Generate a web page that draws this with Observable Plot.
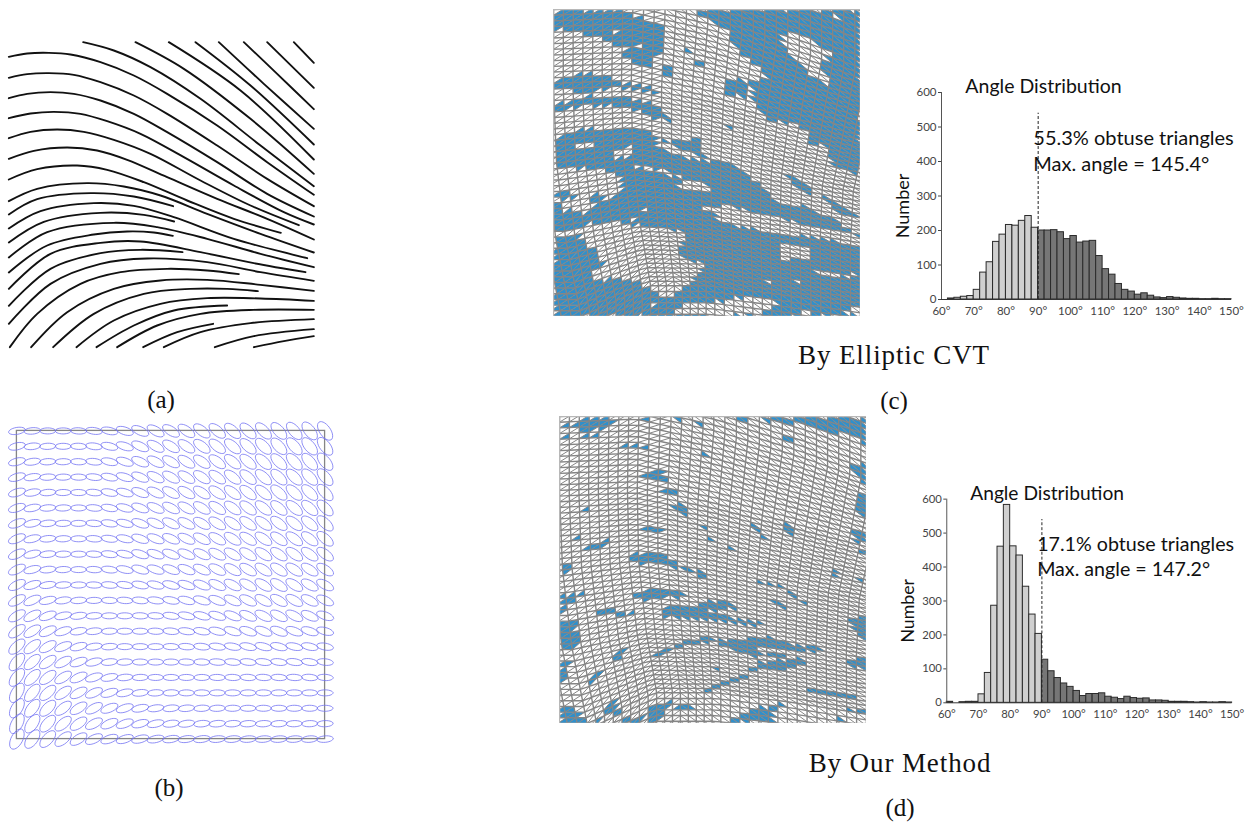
<!DOCTYPE html>
<html><head><meta charset="utf-8">
<script src="https://cdn.jsdelivr.net/npm/d3@7"></script>
<script src="https://cdn.jsdelivr.net/npm/@observablehq/plot@0.6"></script>
<style>
html,body{margin:0;padding:0;background:#fff}
#page{position:relative;width:1251px;height:823px;overflow:hidden}
.panel{position:absolute}
.panel svg{display:block;background:transparent}
.cap{position:absolute;transform:translate(-50%,-50%);font-family:"Liberation Serif",serif;white-space:nowrap;color:#111}
</style></head><body><div id="page"></div>
<script>
// ---------- Histogram values (2-degree bins starting at 60 degrees)
const binStart = [60,62,64,66,68,70,72,74,76,78,80,82,84,86,88,90,92,94,96,98,100,102,104,106,108,110,112,114,116,118,120,122,124,126,128,130,132,134,136,138,140,142,144,146,148];
const histC = [0,3,5,8,10,28,78,108,167,188,216,214,228,242,208,200,200,201,195,175,184,165,168,170,126,88,72,45,28,23,14,18,11,6,4,7,5,3,2,2,1,1,2,1,1];
const histD = [3,0,2,3,3,25,88,286,460,583,461,434,342,260,203,127,93,73,57,47,35,20,26,26,28,18,15,11,18,14,12,13,7,7,6,3,3,3,2,1,2,1,1,2,1];
const xTicks = [60,70,80,90,100,110,120,130,140,150];
const yTicks = [0,100,200,300,400,500,600];

// ---------- Panel (a): streamlines
const streamlines = [
 [[880,35],[940,97]],
 [[800,35],[940,172]],
 [[730,35],[830,130],[940,236]],
 [[655,35],[790,160],[940,295]],
 [[585,35],[750,165],[940,342]],
 [[505,35],[720,180],[940,387]],
 [[405,35],[550,115],[750,265],[940,430]],
 [[248,35],[340,60],[450,110],[600,205],[780,345],[940,467]],
 [[25,79],[80,69],[145,67],[210,72],[300,95],[400,135],[500,190],[650,285],[800,395],[940,493]],
 [[25,142],[80,131],[145,128],[220,133],[300,155],[400,195],[500,250],[650,345],[800,445],[940,527]],
 [[25,203],[80,190],[150,185],[220,190],[300,210],[400,250],[500,305],[650,395],[800,490],[940,558]],
 [[25,263],[90,249],[160,244],[240,250],[320,272],[420,310],[550,380],[700,465],[850,545],[940,582]],
 [[25,323],[90,304],[170,297],[250,304],[340,328],[450,370],[600,450],[750,525],[895,584]],
 [[25,385],[100,361],[200,351],[290,360],[380,388],[500,440],[650,505],[800,565],[940,627]],
 [[25,447],[110,416],[230,405],[320,418],[430,455],[560,510],[700,565],[841,607]],
 [[25,512],[110,475],[260,458],[370,468],[480,495],[620,550],[780,610],[940,666]],
 [[25,552],[110,506],[270,488],[400,498],[518,527]],
 [[25,594],[120,542],[280,518],[400,526],[520,560],[700,625],[920,683]],
 [[25,636],[130,574],[300,547],[430,553],[521,573]],
 [[25,681],[140,605],[340,577],[470,590],[620,625],[780,670],[940,710]],
 [[25,726],[140,645],[280,612],[380,603],[460,606],[517,616]],
 [[25,775],[150,670],[300,637],[420,633],[600,665],[760,698],[915,725]],
 [[25,826],[150,715],[300,668],[420,658],[546,665]],
 [[25,880],[150,760],[300,700],[440,684],[620,695],[780,725],[940,751]],
 [[28,950],[110,850],[240,760],[360,725],[500,715],[620,720],[715,731]],
 [[92,950],[200,845],[340,775],[480,750],[620,748],[780,763],[940,781]],
 [[158,950],[280,850],[430,790],[570,775],[680,775],[772,782]],
 [[228,950],[340,870],[480,820],[620,803],[780,804],[940,811]],
 [[288,950],[400,885],[520,840],[680,825]],
 [[350,950],[470,885],[600,850],[760,838],[940,838]],
 [[428,950],[530,905],[638,880]],
 [[490,950],[600,905],[750,878],[940,866]],
 [[643,950],[760,917],[940,896]],
 [[760,950],[850,932],[940,917]]
];

// ---------- Panel (b): ellipse tilt per grid node, degrees (positive rises to the right)
const ellipseTilt = [
 [10,5,0,0,-3,-8,-12,-18,-25,-30,-32,-35,-38,-40,-42,-44,-46,-48,-50,-52,-55],
 [12,6,2,0,-2,-7,-13,-18,-25,-30,-32,-35,-37,-39,-41,-43,-45,-47,-49,-50,-52],
 [14,8,3,1,-2,-6,-12,-18,-24,-28,-30,-33,-35,-37,-39,-41,-43,-45,-47,-48,-50],
 [16,9,3,1,-1,-6,-12,-17,-23,-27,-30,-32,-34,-36,-38,-40,-42,-44,-45,-46,-48],
 [17,10,4,1,-1,-5,-11,-16,-22,-26,-29,-31,-33,-35,-37,-39,-40,-42,-43,-44,-46],
 [18,11,4,2,0,-5,-10,-15,-21,-25,-28,-30,-32,-34,-36,-38,-39,-40,-41,-42,-44],
 [20,12,5,2,0,-4,-9,-14,-20,-24,-26,-28,-30,-33,-35,-36,-37,-38,-39,-40,-42],
 [22,13,5,2,0,-4,-8,-13,-19,-22,-24,-26,-28,-31,-33,-34,-35,-36,-37,-38,-40],
 [24,14,6,2,0,-3,-7,-12,-18,-20,-22,-24,-26,-29,-31,-33,-34,-35,-36,-36,-36],
 [25,14,6,2,0,-3,-7,-12,-18,-19,-21,-23,-25,-28,-30,-32,-33,-34,-34,-33,-32],
 [26,18,8,4,1,-2,-5,-8,-12,-14,-16,-19,-22,-26,-28,-30,-32,-33,-33,-30,-28],
 [28,24,14,8,4,1,-2,-4,-6,-8,-11,-15,-18,-22,-25,-27,-29,-30,-30,-28,-25],
 [30,28,20,12,8,4,0,0,-2,-3,-8,-12,-15,-18,-22,-25,-27,-28,-28,-25,-20],
 [35,32,25,18,10,6,2,0,0,-2,-5,-8,-10,-14,-18,-20,-22,-22,-20,-18,-15],
 [42,38,30,22,15,8,4,0,0,0,-2,-4,-6,-8,-10,-12,-14,-14,-12,-12,-10],
 [50,42,35,28,20,14,6,3,0,0,0,-2,-2,-4,-5,-6,-7,-7,-8,-8,-6],
 [52,45,38,32,25,18,12,5,2,0,0,0,0,-1,-2,-3,-3,-3,-3,-4,-3],
 [58,50,42,35,28,24,18,12,6,3,2,0,0,0,0,0,0,0,0,0,0],
 [58,52,45,38,32,28,22,18,12,8,6,5,3,2,1,0,0,0,0,0,0],
 [60,55,48,40,35,28,24,20,15,12,8,8,5,5,4,3,3,3,2,2,2],
 [62,55,48,40,32,25,20,18,15,12,10,8,8,6,6,5,5,5,5,5,5]
];

// ---------- Panels (c) and (d): obtuse-triangle regions
const blueC = [
 [[40,14],[210,14],[260,35],[340,55],[335,95],[345,130],[300,160],[310,200],[260,175],[205,145],[215,125],[160,100],[110,85],[40,75],[12,70],[12,30]],
 [[430,12],[930,12],[930,510],[845,480],[830,420],[780,415],[765,375],[730,350],[670,350],[640,330],[610,285],[600,225],[650,215],[620,180],[560,130],[530,70],[495,60]],
 [[520,225],[590,225],[600,275],[530,265]],
 [[12,230],[90,200],[180,210],[200,230],[290,240],[350,265],[260,255],[180,245],[110,265],[60,250],[12,250]],
 [[12,300],[60,285],[120,270],[210,275],[290,290],[330,310],[370,345],[320,340],[260,315],[180,300],[100,300],[40,310],[12,320]],
 [[12,400],[60,385],[100,368],[300,372],[320,405],[450,400],[470,465],[540,465],[620,530],[680,590],[760,600],[850,640],[930,690],[930,930],[12,930]],
 [[400,120],[420,130],[410,140]],
 [[420,175],[470,170],[470,185],[430,190]],
 [[345,175],[365,185],[370,215],[340,205]]
];
const whiteC = [
 [[690,90],[750,80],[845,145],[810,175],[845,245],[780,210],[740,165],[700,120]],
 [[835,30],[880,35],[870,50]],
 [[905,190],[925,200],[925,212]],
 [[165,78],[205,68],[215,82],[185,85]],
 [[205,130],[280,115],[250,135]],
 [[12,14],[40,14],[14,30]],
 [[50,42],[75,40],[60,55]],
 [[75,35],[100,42],[85,45]],
 [[12,480],[80,485],[190,495],[215,520],[210,565],[150,585],[100,625],[40,610],[12,590]],
 [[70,420],[130,410],[145,425],[80,430]],
 [[170,440],[245,420],[250,450],[200,455]],
 [[250,480],[330,490],[400,515],[330,505]],
 [[310,418],[370,415],[470,465],[400,455]],
 [[370,535],[410,520],[500,545],[470,560],[420,555]],
 [[458,395],[475,395],[500,460],[470,460]],
 [[555,500],[595,480],[590,500],[560,505]],
 [[450,605],[530,598],[640,625],[700,640],[930,690],[925,720],[780,690],[700,690],[620,670],[510,650],[490,620]],
 [[690,710],[780,720],[770,755],[700,760]],
 [[790,795],[930,805],[925,815],[810,805]],
 [[110,650],[200,650],[300,660],[420,680],[380,730],[400,760],[470,770],[440,810],[400,850],[340,880],[310,860],[270,830],[200,810],[130,830],[130,790],[160,770],[120,720],[80,700],[100,660]],
 [[265,610],[300,605],[290,620]],
 [[210,640],[260,635],[250,650]],
 [[178,640],[195,640],[188,660]],
 [[12,680],[60,670],[110,670],[80,690],[40,690],[14,690]],
 [[370,925],[410,895],[530,880],[610,870],[690,890],[640,925]],
 [[590,810],[640,820],[690,835],[640,825]],
 [[720,820],[755,818],[740,828]],
 [[700,915],[760,920],[820,900],[780,925]],
 [[860,920],[920,900],[925,925]],
 [[12,890],[28,900],[12,908]],
 [[290,900],[320,890],[310,905]],
 [[165,925],[185,910],[180,925]]
];
const blueOverC = [
 [[12,558],[60,560],[80,575],[30,580]],
 [[110,570],[150,558],[160,575],[125,590]],
 [[700,500],[770,530],[800,570],[740,550]],
 [[810,560],[880,600],[930,640],[860,620]],
 [[540,520],[600,560],[560,540]],
 [[530,355],[555,360],[545,385]]
];
const blueD = [
 [[50,35],[90,15],[170,15],[185,25],[150,50],[90,55]],
 [[15,40],[45,30],[45,50]],
 [[85,65],[150,70],[115,82],[95,80]],
 [[20,75],[45,70],[45,85]],
 [[205,100],[250,95],[250,110]],
 [[262,108],[275,95],[290,108]],
 [[240,15],[255,15],[255,25]],
 [[265,15],[285,15],[275,25]],
 [[360,15],[400,15],[385,30]],
 [[420,15],[455,40],[430,35]],
 [[490,15],[520,15],[505,35]],
 [[540,15],[570,15],[560,35]],
 [[610,15],[930,15],[930,100],[880,60],[800,60],[770,40],[640,30]],
 [[870,160],[930,150],[930,230],[900,190]],
 [[905,240],[930,245],[930,330],[905,300]],
 [[880,350],[930,350],[930,390],[900,385]],
 [[905,410],[930,410],[930,430]],
 [[905,495],[930,495],[930,515]],
 [[880,615],[930,610],[930,680],[890,650]],
 [[675,70],[700,70],[720,95],[690,90]],
 [[420,105],[440,105],[455,140],[435,130]],
 [[50,170],[78,162],[78,175]],
 [[255,190],[310,165],[340,205],[300,205]],
 [[325,235],[370,228],[370,245],[340,243]],
 [[340,275],[365,270],[400,285],[395,315],[375,300],[345,285]],
 [[25,297],[45,292],[45,302]],
 [[55,302],[78,295],[78,303]],
 [[85,290],[105,280],[105,293]],
 [[115,295],[140,287],[138,298]],
 [[250,355],[280,340],[340,355],[300,360]],
 [[430,335],[470,350],[440,345]],
 [[445,375],[470,372],[460,392]],
 [[585,330],[600,330],[630,375],[610,375]],
 [[675,350],[695,335],[720,365],[695,360]],
 [[775,310],[815,325],[800,330]],
 [[505,400],[520,400],[535,415]],
 [[15,370],[45,360],[45,372]],
 [[50,375],[75,360],[75,385],[50,385]],
 [[100,395],[155,383],[140,400],[165,412],[80,410]],
 [[215,440],[240,420],[330,425],[380,460],[450,480],[445,500],[390,470],[320,455],[240,450]],
 [[15,455],[45,445],[60,465],[40,470],[15,490]],
 [[825,475],[840,475],[855,495],[840,493]],
 [[597,500],[620,500],[612,515]],
 [[630,510],[650,510],[650,520]],
 [[660,515],[680,520],[665,525]],
 [[690,530],[730,555],[715,555]],
 [[650,560],[670,555],[695,590],[660,580]],
 [[735,560],[760,565],[745,578]],
 [[235,545],[310,520],[370,535],[420,550],[310,555],[270,560]],
 [[15,545],[90,540],[60,555],[30,590],[15,600]],
 [[115,595],[160,585],[230,600],[180,610]],
 [[310,585],[420,575],[440,565],[520,565],[545,585],[450,595],[530,610],[320,610]],
 [[310,610],[420,600],[530,615],[640,630],[600,640],[520,625],[400,615]],
 [[15,620],[60,620],[60,660],[80,680],[50,705],[15,720]],
 [[270,730],[340,705],[400,680],[470,670],[480,685],[390,695],[310,725],[275,738]],
 [[485,680],[560,680],[630,670],[700,690],[800,705],[780,715],[700,710],[620,700],[600,720],[720,720],[700,730],[600,730],[495,700]],
 [[565,770],[620,745],[750,735],[740,755],[700,770]],
 [[440,830],[500,800],[560,785],[620,785],[560,800],[490,820],[445,840]],
 [[475,765],[495,760],[495,780]],
 [[875,745],[910,730],[930,740],[930,765],[890,760]],
 [[160,740],[190,715],[215,705],[185,745]],
 [[100,810],[125,765],[135,785],[110,815]],
 [[15,740],[50,740],[30,790],[15,830]],
 [[15,880],[30,880],[70,900],[90,925],[15,930]],
 [[120,905],[135,925],[120,930]],
 [[190,905],[270,910],[250,930],[200,930]],
 [[155,880],[180,855],[195,900],[150,905]],
 [[270,895],[300,870],[345,865],[330,890],[300,925],[270,925]],
 [[350,890],[380,875],[415,885],[390,893]],
 [[515,925],[570,890],[640,880],[690,865],[650,900],[650,925]],
 [[745,830],[800,825],[920,855],[840,850]],
 [[835,885],[920,890],[930,900],[880,900]],
 [[790,925],[850,915],[890,925]]
];

// Mesh lattice bend, a coarse estimated field (fractions of the panel side) at u,v = 0,.25,.5,.75,1.
// The individual mesh nodes are a structural lattice built on this field, not measured one by one.
const meshRowBend = [
 [0,-.01,.05,.14,.24],
 [0,-.01,.04,.11,.18],
 [0,-.03,0,.05,.10],
 [0,-.05,-.04,-.01,.03],
 [0,-.10,-.10,-.07,-.03]
];
const meshColBend = [
 [0,0,.02,.06,.09],
 [0,-.005,0,.025,.05],
 [.01,0,-.005,0,.01],
 [.04,.025,0,-.005,0],
 [.09,.06,.01,0,0]
];
const meshCols = 31, meshRows = 54;

const page = document.getElementById("page");
function place(node, left, top){
  const d = document.createElement("div");
  d.className = "panel"; d.style.left = left+"px"; d.style.top = top+"px";
  d.appendChild(node); page.appendChild(d);
}
function caption(text, cx, cy, size, spacing){
  const d = document.createElement("div");
  d.className = "cap"; d.textContent = text;
  d.style.left = cx+"px"; d.style.top = cy+"px"; d.style.fontSize = size+"px";
  if (spacing) d.style.letterSpacing = spacing+"px";
  page.appendChild(d);
}
const flatten = list => list.flatMap((pts,id) => pts.map(([x,y]) => ({x,y,id})));

// ---- (a)
place(Plot.plot({width:330,height:330,margin:0,x:{domain:[0,990],axis:null},y:{domain:[990,0],axis:null},
  marks:[Plot.line(flatten(streamlines),{x:"x",y:"y",z:"id",stroke:"#111",strokeWidth:1.9,curve:"catmull-rom"})]
}),0,30);

// ---- (b)
const ellipsePts = [];
ellipseTilt.forEach((row,r)=>row.forEach((deg,c)=>{
  const th = deg*Math.PI/180, m = Math.abs(deg);
  const major = (7.9+m*0.05)/15.4, minor = (3.0+m*0.045)/15.4;
  for(let k=0;k<28;k++){
    const t = k/28*2*Math.PI, A = major*Math.cos(t), B = minor*Math.sin(t);
    ellipsePts.push({x:c+A*Math.cos(th)+B*Math.sin(th), y:r-A*Math.sin(th)+B*Math.cos(th), id:r*21+c});
  }
}));
place(Plot.plot({width:339,height:339,margin:0,x:{domain:[-1,21],axis:null},y:{domain:[21,-1],axis:null},
  marks:[
    Plot.rect([{a:0,b:20,c:0,d:20}],{x1:"a",x2:"b",y1:"c",y2:"d",fill:"none",stroke:"#858585",strokeWidth:1.3}),
    Plot.line(ellipsePts,{x:"x",y:"y",z:"id",stroke:"#7272f2",strokeWidth:.8,curve:"linear-closed"})
  ]
}),0.6,414.6);

// ---- mesh panels
function lookup(table,u,v){
  const cl=(a)=>Math.max(0,Math.min(3.999,a*4));
  const a=cl(u),b=cl(v),i=Math.floor(a),j=Math.floor(b),f=a-i,g=b-j;
  return (table[j][i]*(1-f)+table[j][i+1]*f)*(1-g)+(table[j+1][i]*(1-f)+table[j+1][i+1]*f)*g;
}
function meshPanel(blue,white,over,dx,dy,left,top){
  const rows=[],cols=[],diags=[],tris=[];
  const I0=-10,I1=meshCols+10,J0=-22,J1=meshRows+22;
  const P=(i,j)=>{const u=i/meshCols,v=j/meshRows;
    return [dx[0]+(u+lookup(meshColBend,u,v))*(dx[1]-dx[0]),dy[0]+(v+lookup(meshRowBend,u,v))*(dy[1]-dy[0])];};
  const inAny=(list,p)=>list.some(poly=>d3.polygonContains(poly,p));
  const isBlue=(p)=>inAny(over,p)||(inAny(blue,p)&&!inAny(white,p));
  const addTri=(a,b,c)=>{
    const m=[(a[0]+b[0]+c[0])/3,(a[1]+b[1]+c[1])/3];
    if(m[0]<dx[0]-20||m[0]>dx[1]+20||m[1]<dy[0]-20||m[1]>dy[1]+20) return;
    if(isBlue(m)) tris.push([a,b,c]);
  };
  for(let j=J0;j<=J1;j++)for(let i=I0;i<=I1;i++){
    const p=P(i,j);
    rows.push({x:p[0],y:p[1],id:j});
    cols.push({x:p[0],y:p[1],id:i});
    if(i<I1&&j<J1){
      const q=P(i+1,j),r=P(i,j+1),s=P(i+1,j+1);
      if(i/meshCols<.35){
        diags.push({x1:r[0],y1:r[1],x2:q[0],y2:q[1]});
        addTri(p,q,r); addTri(q,s,r);
      }else{
        diags.push({x1:p[0],y1:p[1],x2:s[0],y2:s[1]});
        addTri(p,q,s); addTri(p,s,r);
      }
    }
  }
  cols.sort((a,b)=>a.id-b.id);
  const mesh={stroke:"#858585",strokeWidth:1.4,clip:true};
  place(Plot.plot({width:307,height:307,margin:0,
    x:{domain:dx,axis:null},y:{domain:[dy[1],dy[0]],axis:null},
    marks:[
      Plot.line(flatten(tris),{x:"x",y:"y",z:"id",fill:"#2f90cc",stroke:"none",curve:"linear-closed",clip:true}),
      Plot.line(rows,{x:"x",y:"y",z:"id",...mesh}),
      Plot.line(cols,{x:"x",y:"y",z:"id",...mesh}),
      Plot.link(diags,{x1:"x1",y1:"y1",x2:"x2",y2:"y2",...mesh,strokeWidth:1}),
      Plot.frame({stroke:"#b8b8b8",strokeWidth:1.5})
    ]
  }),left,top);
}
meshPanel(blueC,whiteC,blueOverC,[10,930],[12,930],553,9);
meshPanel(blueD,[],[],[12,932],[12,930],559,416);

// ---- histograms
function hist(values,note1,note2,left,top){
  const rows=binStart.map((b,i)=>({b,n:values[i]}));
  const font={fontFamily:"Lato",fill:"#111"};
  place(Plot.plot({width:355,height:240,marginLeft:45,marginRight:20,marginTop:22,marginBottom:11,
    style:{fontFamily:"Lato",overflow:"visible"},
    x:{domain:[60,150],axis:null},y:{domain:[0,600],axis:null},
    marks:[
      Plot.rectY(rows,{x1:"b",x2:d=>d.b+2,y1:0,y2:"n",fill:d=>d.b<90?"#d0d0d0":"#767676",stroke:"#2a2a2a",strokeWidth:1}),
      Plot.axisX({ticks:xTicks,tickSize:0,tickPadding:7,label:null,tickFormat:d=>d+"°",fontSize:11.5,color:"#444",anchor:"bottom"}),
      Plot.axisY({ticks:yTicks,tickSize:3,tickPadding:2,label:null,fontSize:11.5,color:"#444",anchor:"left"}),
      Plot.ruleX([60],{stroke:"#555",strokeWidth:1}),
      Plot.ruleY([0],{stroke:"#333",strokeWidth:1}),
      Plot.ruleX([90],{y1:0,y2:540,stroke:"#222",strokeWidth:1,strokeDasharray:"3,2"}),
      Plot.text(["Angle Distribution"],{x:67.4,y:616,textAnchor:"start",fontSize:19.5,...font}),
      Plot.text([note1],{x:88.5,y:467,textAnchor:"start",fontSize:20,...font}),
      Plot.text([note2],{x:88.5,y:392,textAnchor:"start",fontSize:20,...font}),
      Plot.text(["Number"],{x:48,y:271,rotate:-90,fontSize:18,...font})
    ]
  }),left,top);
}
hist(histC,"55.3% obtuse triangles","Max. angle = 145.4°",895.7,70);
hist(histD,"17.1% obtuse triangles","Max. angle = 147.2°",901.7,477.3);

// ---- captions
caption("(a)",161,400,25);
caption("(b)",169,788,25);
caption("(c)",894,401,25);
caption("(d)",900,808,25);
caption("By Elliptic CVT",894,355,27,.9);
caption("By Our Method",900,763,27,.9);
</script></body></html>
